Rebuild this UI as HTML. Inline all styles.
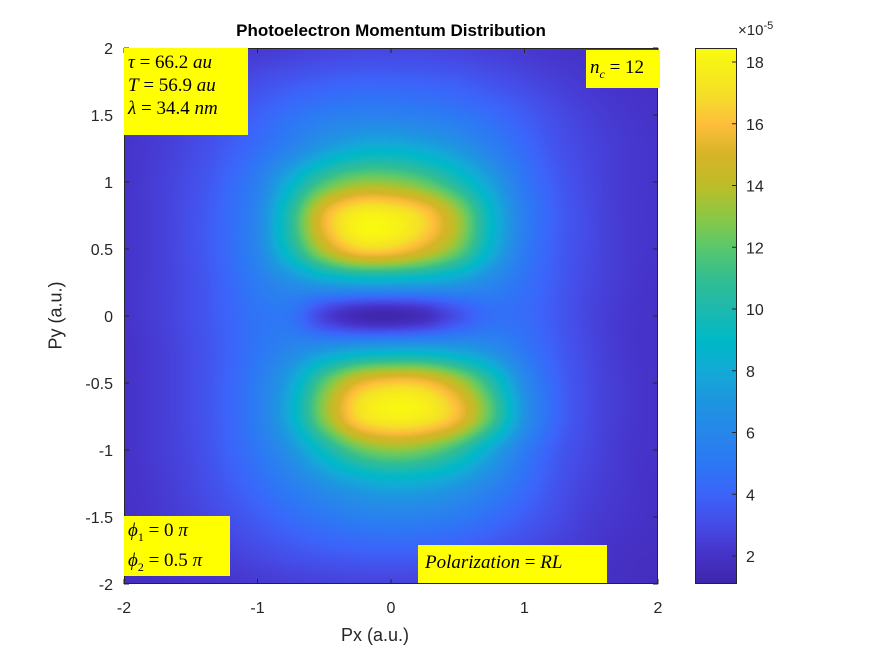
<!DOCTYPE html>
<html><head><meta charset="utf-8"><style>
body{margin:0;background:#fff;width:875px;height:656px;overflow:hidden;position:relative;font-family:"Liberation Sans",sans-serif}
.t{position:absolute;color:#262626;font-size:16px;white-space:nowrap}
.box{position:absolute;background:#ffff00;font-family:"Liberation Serif",serif;font-size:19px;color:#000;line-height:23px;padding:3px 4px;box-sizing:border-box;white-space:nowrap}
i{font-style:italic}
</style></head><body>
<div class="t" style="left:0;width:782px;text-align:center;top:21px;font-weight:bold;font-size:17px;color:#000">Photoelectron Momentum Distribution</div>
<canvas id="hm" width="534" height="536" style="position:absolute;left:124px;top:48px"></canvas>
<canvas id="cb" width="42" height="536" style="position:absolute;left:695px;top:48px"></canvas>
<svg id="ax" width="875" height="656" style="position:absolute;left:0;top:0"></svg>
<div class="box" style="left:124px;top:48px;width:124px;height:87px"><i>τ</i> = 66.2 <i>au</i><br><i>T</i> = 56.9 <i>au</i><br><i>λ</i> = 34.4 <i>nm</i></div>
<div class="box" style="left:586px;top:50px;width:74px;height:38px;padding-top:6px"><i>n<sub style="font-size:12px">c</sub></i> = 12</div>
<div class="box" style="left:124px;top:516px;width:106px;height:60px"><i>ϕ</i><sub style="font-size:12px">1</sub> = 0 <i>π</i><br><i>ϕ</i><sub style="font-size:12px">2</sub> = 0.5 <i>π</i></div>
<div class="box" style="left:418px;top:545px;width:189px;height:38px;padding-top:6px;padding-left:7px"><i>Polarization</i> = <i>RL</i></div>
<div class="t" style="left:341px;top:625px;font-size:18px">Px (a.u.)</div>
<div class="t" style="left:22px;top:305px;font-size:18px;transform:rotate(-90deg)">Py (a.u.)</div>
<div class="t" style="left:738px;top:20px;font-size:15px">×10<sup style="font-size:11px">-5</sup></div>
<script>
const pxVals=[-2,-1.75,-1.5,-1.25,-1,-0.75,-0.5,-0.25,0,0.25,0.5,0.75,1,1.25,1.5,1.75,2];
const pyVals=[2,1.75,1.5,1.25,1,0.75,0.5,0.25,0,-0.25,-0.5,-0.75,-1,-1.25,-1.5,-1.75,-2];
const Z=[
[1.8,1.9,2.0,2.1,2.3,2.5,2.7,2.8,2.8,2.8,2.7,2.5,2.3,2.1,2.0,1.9,1.8],
[1.9,2.1,2.4,2.7,3.1,3.5,3.8,4.0,4.0,3.9,3.7,3.3,2.9,2.5,2.2,2.0,1.9],
[2.0,2.3,2.7,3.2,3.9,4.7,5.3,5.6,5.6,5.4,5.0,4.4,3.7,3.0,2.5,2.2,2.0],
[2.1,2.4,2.9,3.6,4.5,5.8,7.3,8.3,8.5,8.0,7.0,5.6,4.3,3.3,2.7,2.3,2.1],
[2.1,2.5,3.1,4.0,5.5,8.5,11.5,13.0,13.0,12.0,10.0,7.5,5.0,3.6,2.8,2.3,2.1],
[2.1,2.5,3.2,4.2,6.0,10.5,15.5,17.8,17.8,16.5,13.5,9.0,5.5,3.8,2.9,2.3,2.1],
[2.1,2.5,3.2,4.2,6.0,9.8,14.0,16.5,16.5,15.0,12.5,8.5,5.3,3.7,2.9,2.3,2.1],
[2.1,2.5,3.1,4.0,5.3,6.5,7.5,8.0,8.0,7.8,7.2,6.0,4.7,3.6,2.8,2.3,2.0],
[2.1,2.5,3.1,3.9,4.8,4.8,2.6,1.4,1.2,1.7,3.2,4.5,4.4,3.5,2.7,2.2,2.0],
[2.0,2.4,3.0,3.8,4.9,6.0,7.0,7.7,8.0,8.0,7.5,6.5,5.0,3.7,2.8,2.2,2.0],
[2.0,2.4,3.0,3.9,5.3,7.8,12.0,15.2,16.3,16.0,14.0,10.5,6.3,4.0,2.9,2.3,2.0],
[2.0,2.4,3.0,3.9,5.4,8.3,13.0,16.8,17.9,17.6,15.8,11.8,6.8,4.1,2.9,2.3,2.0],
[2.0,2.4,2.9,3.8,5.0,6.8,9.5,12.0,13.0,12.5,10.8,8.0,5.3,3.6,2.8,2.2,2.0],
[2.0,2.3,2.8,3.5,4.4,5.5,6.7,7.7,8.2,8.0,7.2,5.9,4.5,3.3,2.6,2.2,1.9],
[1.9,2.2,2.6,3.1,3.7,4.4,5.0,5.5,5.7,5.6,5.2,4.5,3.7,3.0,2.4,2.1,1.9],
[1.8,2.0,2.3,2.6,3.0,3.4,3.7,3.9,4.0,3.9,3.7,3.3,2.9,2.5,2.2,1.9,1.8],
[1.7,1.8,2.0,2.1,2.3,2.5,2.6,2.7,2.7,2.7,2.6,2.4,2.2,2.0,1.9,1.8,1.7]];
const xTicks=[-2,-1,0,1,2];
const yTicks=[2,1.5,1,0.5,0,-0.5,-1,-1.5,-2];
const yTickLabels=["2","1.5","1","0.5","0","-0.5","-1","-1.5","-2"];
const cbTicks=[2,4,6,8,10,12,14,16,18];
const cMin=1.05,cMax=18.45;
const stopV=[1.05,2,3,4,5,6,7,8,9,10,11,12,13,14,15,16,17,18.45];
const stopC=[[62,38,168],[70,50,200],[70,75,230],[60,100,250],[45,120,245],[40,135,235],[30,150,225],[20,170,215],[0,185,200],[30,185,175],[50,190,145],[90,200,110],[140,200,70],[190,190,40],[215,180,40],[254,190,60],[245,225,40],[249,251,14]];
function cmap(v){v=Math.max(cMin,Math.min(cMax,v));let i=0;while(i<stopV.length-2&&v>stopV[i+1])i++;const f=(v-stopV[i])/(stopV[i+1]-stopV[i]);const a=stopC[i],b=stopC[i+1];return [a[0]+(b[0]-a[0])*f,a[1]+(b[1]-a[1])*f,a[2]+(b[2]-a[2])*f];}
const X0=124,X1=658,Y0=48,Y1=584;
const sx=v=>X0+(v+2)/4*(X1-X0), sy=v=>Y0+(2-v)/4*(Y1-Y0);
const cbY=v=>62+(18-v)*30.875;
function cr(p0,p1,p2,p3,t){return 0.5*(2*p1+(-p0+p2)*t+(2*p0-5*p1+4*p2-p3)*t*t+(-p0+3*p1-3*p2+p3)*t*t*t);}
function g(r,c){r=Math.max(0,Math.min(Z.length-1,r));c=Math.max(0,Math.min(pxVals.length-1,c));return Z[r][c];}
function interp(fr,fc){const r=Math.floor(fr),c=Math.floor(fc),tr=fr-r,tc=fc-c;const rows=[];for(let k=-1;k<3;k++)rows.push(cr(g(r+k,c-1),g(r+k,c),g(r+k,c+1),g(r+k,c+2),tc));return cr(rows[0],rows[1],rows[2],rows[3],tr);}
const hm=document.getElementById('hm'),ctx=hm.getContext('2d'),img=ctx.createImageData(534,536);
const nx=pxVals.length-1,ny=pyVals.length-1;
for(let y=0;y<536;y++){const py=2-(y+0.5)/536*4;const fr=(pyVals[0]-py)/(pyVals[0]-pyVals[ny])*ny;for(let x=0;x<534;x++){const px=-2+(x+0.5)/534*4;const fc=(px-pxVals[0])/(pxVals[nx]-pxVals[0])*nx;const col=cmap(interp(fr,fc));const o=(y*534+x)*4;img.data[o]=col[0];img.data[o+1]=col[1];img.data[o+2]=col[2];img.data[o+3]=255;}}
ctx.putImageData(img,0,0);
const cb=document.getElementById('cb'),c2=cb.getContext('2d');
for(let y=0;y<536;y++){const v=18-((y+48)-62)/30.875;const col=cmap(v);c2.fillStyle=`rgb(${col[0]|0},${col[1]|0},${col[2]|0})`;c2.fillRect(0,y,42,1);}
const svg=document.getElementById('ax'),NS='http://www.w3.org/2000/svg';
function mk(tag,attrs,name){const e=document.createElementNS(NS,tag);for(const k in attrs)e.setAttribute(k,attrs[k]);


svg.appendChild(e);return e;}
mk('rect',{x:X0+0.5,y:Y0+0.5,width:X1-X0-1,height:Y1-Y0-1,fill:'none',stroke:'#262626','stroke-width':1},'axes-box');
mk('rect',{x:695.5,y:48.5,width:41,height:535,fill:'none',stroke:'#262626','stroke-width':1},'colorbar-box');
xTicks.forEach(v=>{const x=sx(v);
mk('line',{x1:x,y1:Y1,x2:x,y2:Y1-5,stroke:'#262626'},'x-tick');
mk('line',{x1:x,y1:Y0,x2:x,y2:Y0+5,stroke:'#262626'},'x-tick-top');
const t=mk('text',{x:x,y:613,'text-anchor':'middle','font-size':16,fill:'#262626','font-family':'Liberation Sans'},'x-tick-label');t.textContent=String(v);});
yTicks.forEach((v,i)=>{const y=sy(v);
mk('line',{x1:X0,y1:y,x2:X0+5,y2:y,stroke:'#262626'},'y-tick');
mk('line',{x1:X1,y1:y,x2:X1-5,y2:y,stroke:'#262626'},'y-tick-right');
const t=mk('text',{x:113,y:y+6,'text-anchor':'end','font-size':16,fill:'#262626','font-family':'Liberation Sans'},'y-tick-label');t.textContent=yTickLabels[i];});
cbTicks.forEach(v=>{const y=cbY(v);
mk('line',{x1:732,y1:y,x2:737,y2:y,stroke:'#262626'},'colorbar-tick');
const t=mk('text',{x:746,y:y+6,'font-size':16,fill:'#262626','font-family':'Liberation Sans'},'colorbar-tick-label');t.textContent=String(v);});
</script>
</body></html>
